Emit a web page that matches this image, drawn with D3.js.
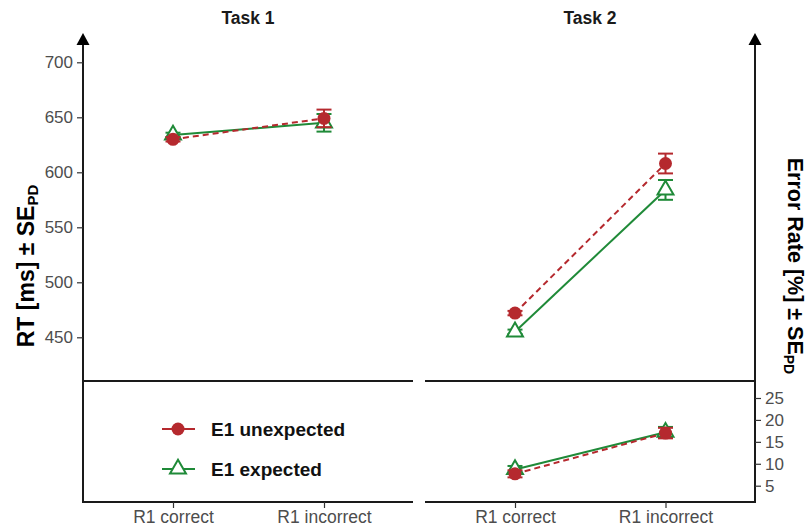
<!DOCTYPE html>
<html>
<head>
<meta charset="utf-8">
<script src="https://cdn.jsdelivr.net/npm/d3@7"></script>
<style>
  body { margin: 0; background: #fff; }
  svg, svg text { font-family: "Liberation Sans", Arial, sans-serif; }
  .tick text { fill: #4d4d4d; }
</style>
</head>
<body>
<svg id="chart" width="809" height="527"></svg>
<script>
// categories and values
const categories = ['R1 correct', 'R1 incorrect']
const tasks = ['Task 1', 'Task 2']
const rtTicks = [450, 500, 550, 600, 650, 700]
const erTicks = [5, 10, 15, 20, 25]

// RT [ms], per task, per category
const rtUnexpected = [[630, 649], [472, 608]]
const rtExpected = [[634, 645], [455, 584]]
const rtSeUnexpected = [[2, 8], [2, 9]]
const rtSeExpected = [[2, 8], [2, 9]]

// error rate [%] (only Task 2 shown)
const erUnexpected = [7.7, 17.0]
const erExpected = [8.7, 17.2]
const erSeUnexpected = [0.8, 1.2]
const erSeExpected = [0.8, 1.2]

const RED = '#b5292e'
const GREEN = '#1f8a38'

const svg = d3.select('#chart')

const yRT = d3.scaleLinear().domain([450, 700]).range([337.3, 62.3])
const yER = d3.scaleLinear().domain([5, 25]).range([485.7, 398])
const xPanels = [
  d3.scalePoint().domain(categories).range([173, 324]),
  d3.scalePoint().domain(categories).range([515, 665.5])
]
const panelX = [[83, 413], [425, 755]]
const midY = 381
const bottomY = 502
const topY = 33

// frame lines
const frame = svg.append('g').attr('stroke', '#1a1a1a').attr('stroke-width', 2).attr('fill', 'none')
panelX.forEach(([x0, x1]) => {
  frame.append('line').attr('x1', x0).attr('x2', x1).attr('y1', midY).attr('y2', midY)
  frame.append('line').attr('x1', x0).attr('x2', x1).attr('y1', bottomY).attr('y2', bottomY)
})
// vertical axes with arrow heads
;[83, 755].forEach(ax => {
  frame.append('line').attr('x1', ax).attr('x2', ax).attr('y1', bottomY + 1).attr('y2', topY + 8)
  svg.append('path')
    .attr('d', `M${ax},${topY} L${ax - 6.5},${topY + 12} L${ax + 6.5},${topY + 12} Z`)
    .attr('fill', '#000')
})

// axes
const styleAxis = size => g => {
  g.attr('font-family', null)
  g.select('.domain').remove()
  g.selectAll('.tick line').attr('stroke', '#333').attr('stroke-width', 1.2)
  g.selectAll('.tick text').attr('font-size', size)
}
svg.append('g').attr('transform', 'translate(83,0)')
  .call(d3.axisLeft(yRT).tickValues(rtTicks).tickSize(6).tickPadding(4))
  .call(styleAxis(17))
svg.append('g').attr('transform', 'translate(755,0)')
  .call(d3.axisRight(yER).tickValues(erTicks).tickSize(6).tickPadding(4))
  .call(styleAxis(17))
xPanels.forEach(x => {
  svg.append('g').attr('transform', `translate(0,${bottomY})`)
    .call(d3.axisBottom(x).tickSize(6).tickPadding(3))
    .call(styleAxis(17.5))
})

// titles
tasks.forEach((t, i) => {
  svg.append('text')
    .attr('x', i === 0 ? 248 : 590).attr('y', 24)
    .attr('text-anchor', 'middle').attr('font-size', 17.5).attr('font-weight', 'bold')
    .attr('fill', '#1a1a1a').text(t)
})

// axis titles
const leftTitle = svg.append('text')
  .attr('transform', 'translate(34,266) rotate(-90)')
  .attr('text-anchor', 'middle').attr('font-size', 23).attr('font-weight', 'bold')
leftTitle.append('tspan').text('RT [ms] ± SE')
leftTitle.append('tspan').attr('font-size', 15).attr('dy', 4).text('PD')

const rightTitle = svg.append('text')
  .attr('transform', 'translate(788,266) rotate(90)')
  .attr('text-anchor', 'middle').attr('font-size', 21.5).attr('font-weight', 'bold')
rightTitle.append('tspan').text('Error Rate [%] ± SE')
rightTitle.append('tspan').attr('font-size', 14).attr('dy', 4).text('PD')

const triangle = d3.symbol().type(d3.symbolTriangle).size(110)

function drawSeries(x, y, vals, ses, color, dashed, shape) {
  const pts = categories.map((c, i) => ({ c, v: vals[i], se: ses[i] }))
  const g = svg.append('g')
  g.append('path')
    .datum(pts)
    .attr('fill', 'none')
    .attr('stroke', color)
    .attr('stroke-width', 2)
    .attr('stroke-dasharray', dashed ? '6,4' : null)
    .attr('d', d3.line().x(d => x(d.c)).y(d => y(d.v)))
  const eb = g.selectAll('.eb').data(pts).enter().append('g')
    .attr('stroke', color).attr('stroke-width', 2)
  eb.append('line').attr('x1', d => x(d.c)).attr('x2', d => x(d.c))
    .attr('y1', d => y(d.v - d.se)).attr('y2', d => y(d.v + d.se))
  eb.append('line').attr('x1', d => x(d.c) - 7.5).attr('x2', d => x(d.c) + 7.5)
    .attr('y1', d => y(d.v - d.se)).attr('y2', d => y(d.v - d.se))
  eb.append('line').attr('x1', d => x(d.c) - 7.5).attr('x2', d => x(d.c) + 7.5)
    .attr('y1', d => y(d.v + d.se)).attr('y2', d => y(d.v + d.se))
  if (shape === 'circle') {
    g.selectAll('circle').data(pts).enter().append('circle')
      .attr('cx', d => x(d.c)).attr('cy', d => y(d.v)).attr('r', 6.5)
      .attr('fill', color)
  } else {
    g.selectAll('.tri').data(pts).enter().append('path')
      .attr('d', triangle)
      .attr('transform', d => `translate(${x(d.c)},${y(d.v)})`)
      .attr('fill', '#fff').attr('stroke', color).attr('stroke-width', 2)
  }
}

// RT panels
tasks.forEach((t, i) => {
  drawSeries(xPanels[i], yRT, rtExpected[i], rtSeExpected[i], GREEN, false, 'triangle')
  drawSeries(xPanels[i], yRT, rtUnexpected[i], rtSeUnexpected[i], RED, true, 'circle')
})
// error rate panel (Task 2)
drawSeries(xPanels[1], yER, erExpected, erSeExpected, GREEN, false, 'triangle')
drawSeries(xPanels[1], yER, erUnexpected, erSeUnexpected, RED, true, 'circle')

// legend
const legend = [
  { label: 'E1 unexpected', color: RED, shape: 'circle' },
  { label: 'E1 expected', color: GREEN, shape: 'triangle' }
]
const lg = svg.append('g')
legend.forEach((d, i) => {
  const cy = 429 + i * 40
  lg.append('line').attr('x1', 162).attr('x2', 195).attr('y1', cy).attr('y2', cy)
    .attr('stroke', d.color).attr('stroke-width', 2)
  if (d.shape === 'circle') {
    lg.append('circle').attr('cx', 178).attr('cy', cy).attr('r', 6.5).attr('fill', d.color)
  } else {
    lg.append('path').attr('d', triangle).attr('transform', `translate(178,${cy})`)
      .attr('fill', '#fff').attr('stroke', d.color).attr('stroke-width', 2)
  }
  lg.append('text').attr('x', 211).attr('y', cy + 7)
    .attr('font-size', 19).attr('font-weight', 'bold').attr('fill', '#111')
    .text(d.label)
})
</script>
</body>
</html>
